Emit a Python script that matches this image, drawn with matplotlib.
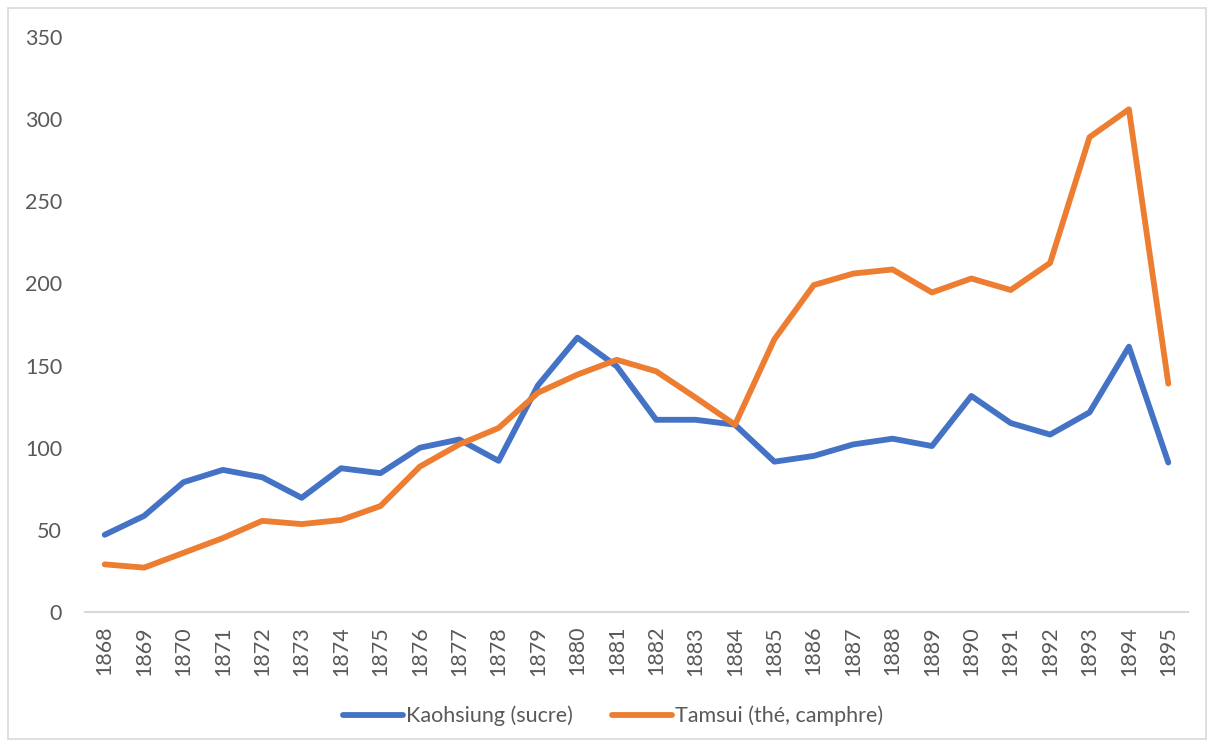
import matplotlib
matplotlib.use("Agg")
import matplotlib.pyplot as plt
from matplotlib.patches import Rectangle

years = list(range(1868, 1896))
kaohsiung = [47, 58.5, 79, 86.5, 82, 69.5, 87.5, 84.5, 100, 105, 92, 138, 167, 149.5,
             117, 117, 114, 91.5, 95, 102, 105.5, 101, 131.5, 115, 108, 121.5, 161.5, 91]
tamsui = [29, 27, 36, 45, 55.5, 53.5, 56, 64.5, 88.5, 102, 112, 133.5, 144.5, 153.5,
          146.5, 130.5, 114, 166, 199, 206, 208.5, 194.5, 203, 196, 212.5, 289, 306, 139]
yticks = [0, 50, 100, 150, 200, 250, 300, 350]
labels = ["Kaohsiung (sucre)", "Tamsui (thé, camphre)"]

plt.rcParams['font.family'] = ['Lato', 'DejaVu Sans']
W, H = 1214, 747
fig = plt.figure(figsize=(W / 100, H / 100), dpi=100)
ax = fig.add_axes([85 / W, 1 - 612 / H, (1188 - 85) / W, (612 - 37) / H])

x = list(range(len(years)))
ax.plot(x, kaohsiung, color="#4472C4", lw=4.2, solid_joinstyle="round", solid_capstyle="round", label=labels[0])
ax.plot(x, tamsui, color="#ED7D31", lw=4.2, solid_joinstyle="round", solid_capstyle="round", label=labels[1])

ax.set_xlim(-0.5, len(years) - 0.5)
ax.set_ylim(0, 350)
ax.set_yticks(yticks)
ax.set_yticklabels([str(v) for v in yticks])
ax.set_xticks(x)
ax.set_xticklabels([str(y) for y in years], rotation=90)
ax.tick_params(axis='both', length=0, labelsize=15.5, colors="#595959")
ax.tick_params(axis='y', pad=16.5)
ax.tick_params(axis='x', pad=10)
for s in ["top", "right", "left"]:
    ax.spines[s].set_visible(False)
ax.spines["bottom"].set_color("#D9D9D9")
ax.spines["bottom"].set_linewidth(1.5)

leg = fig.legend(loc="center", bbox_to_anchor=(613 / W, 1 - 716 / H), ncol=2, frameon=False,
                 fontsize=15.5, handlelength=2.8, columnspacing=1.8, handletextpad=0.15)
for t in leg.get_texts():
    t.set_color("#595959")

fig.patches.append(Rectangle((8 / W, 8 / H), (W - 16) / W, (H - 16) / H, transform=fig.transFigure,
                             fill=False, edgecolor="#D9D9D9", lw=1.2))

fig.savefig("out.png", dpi=100, facecolor="white")
